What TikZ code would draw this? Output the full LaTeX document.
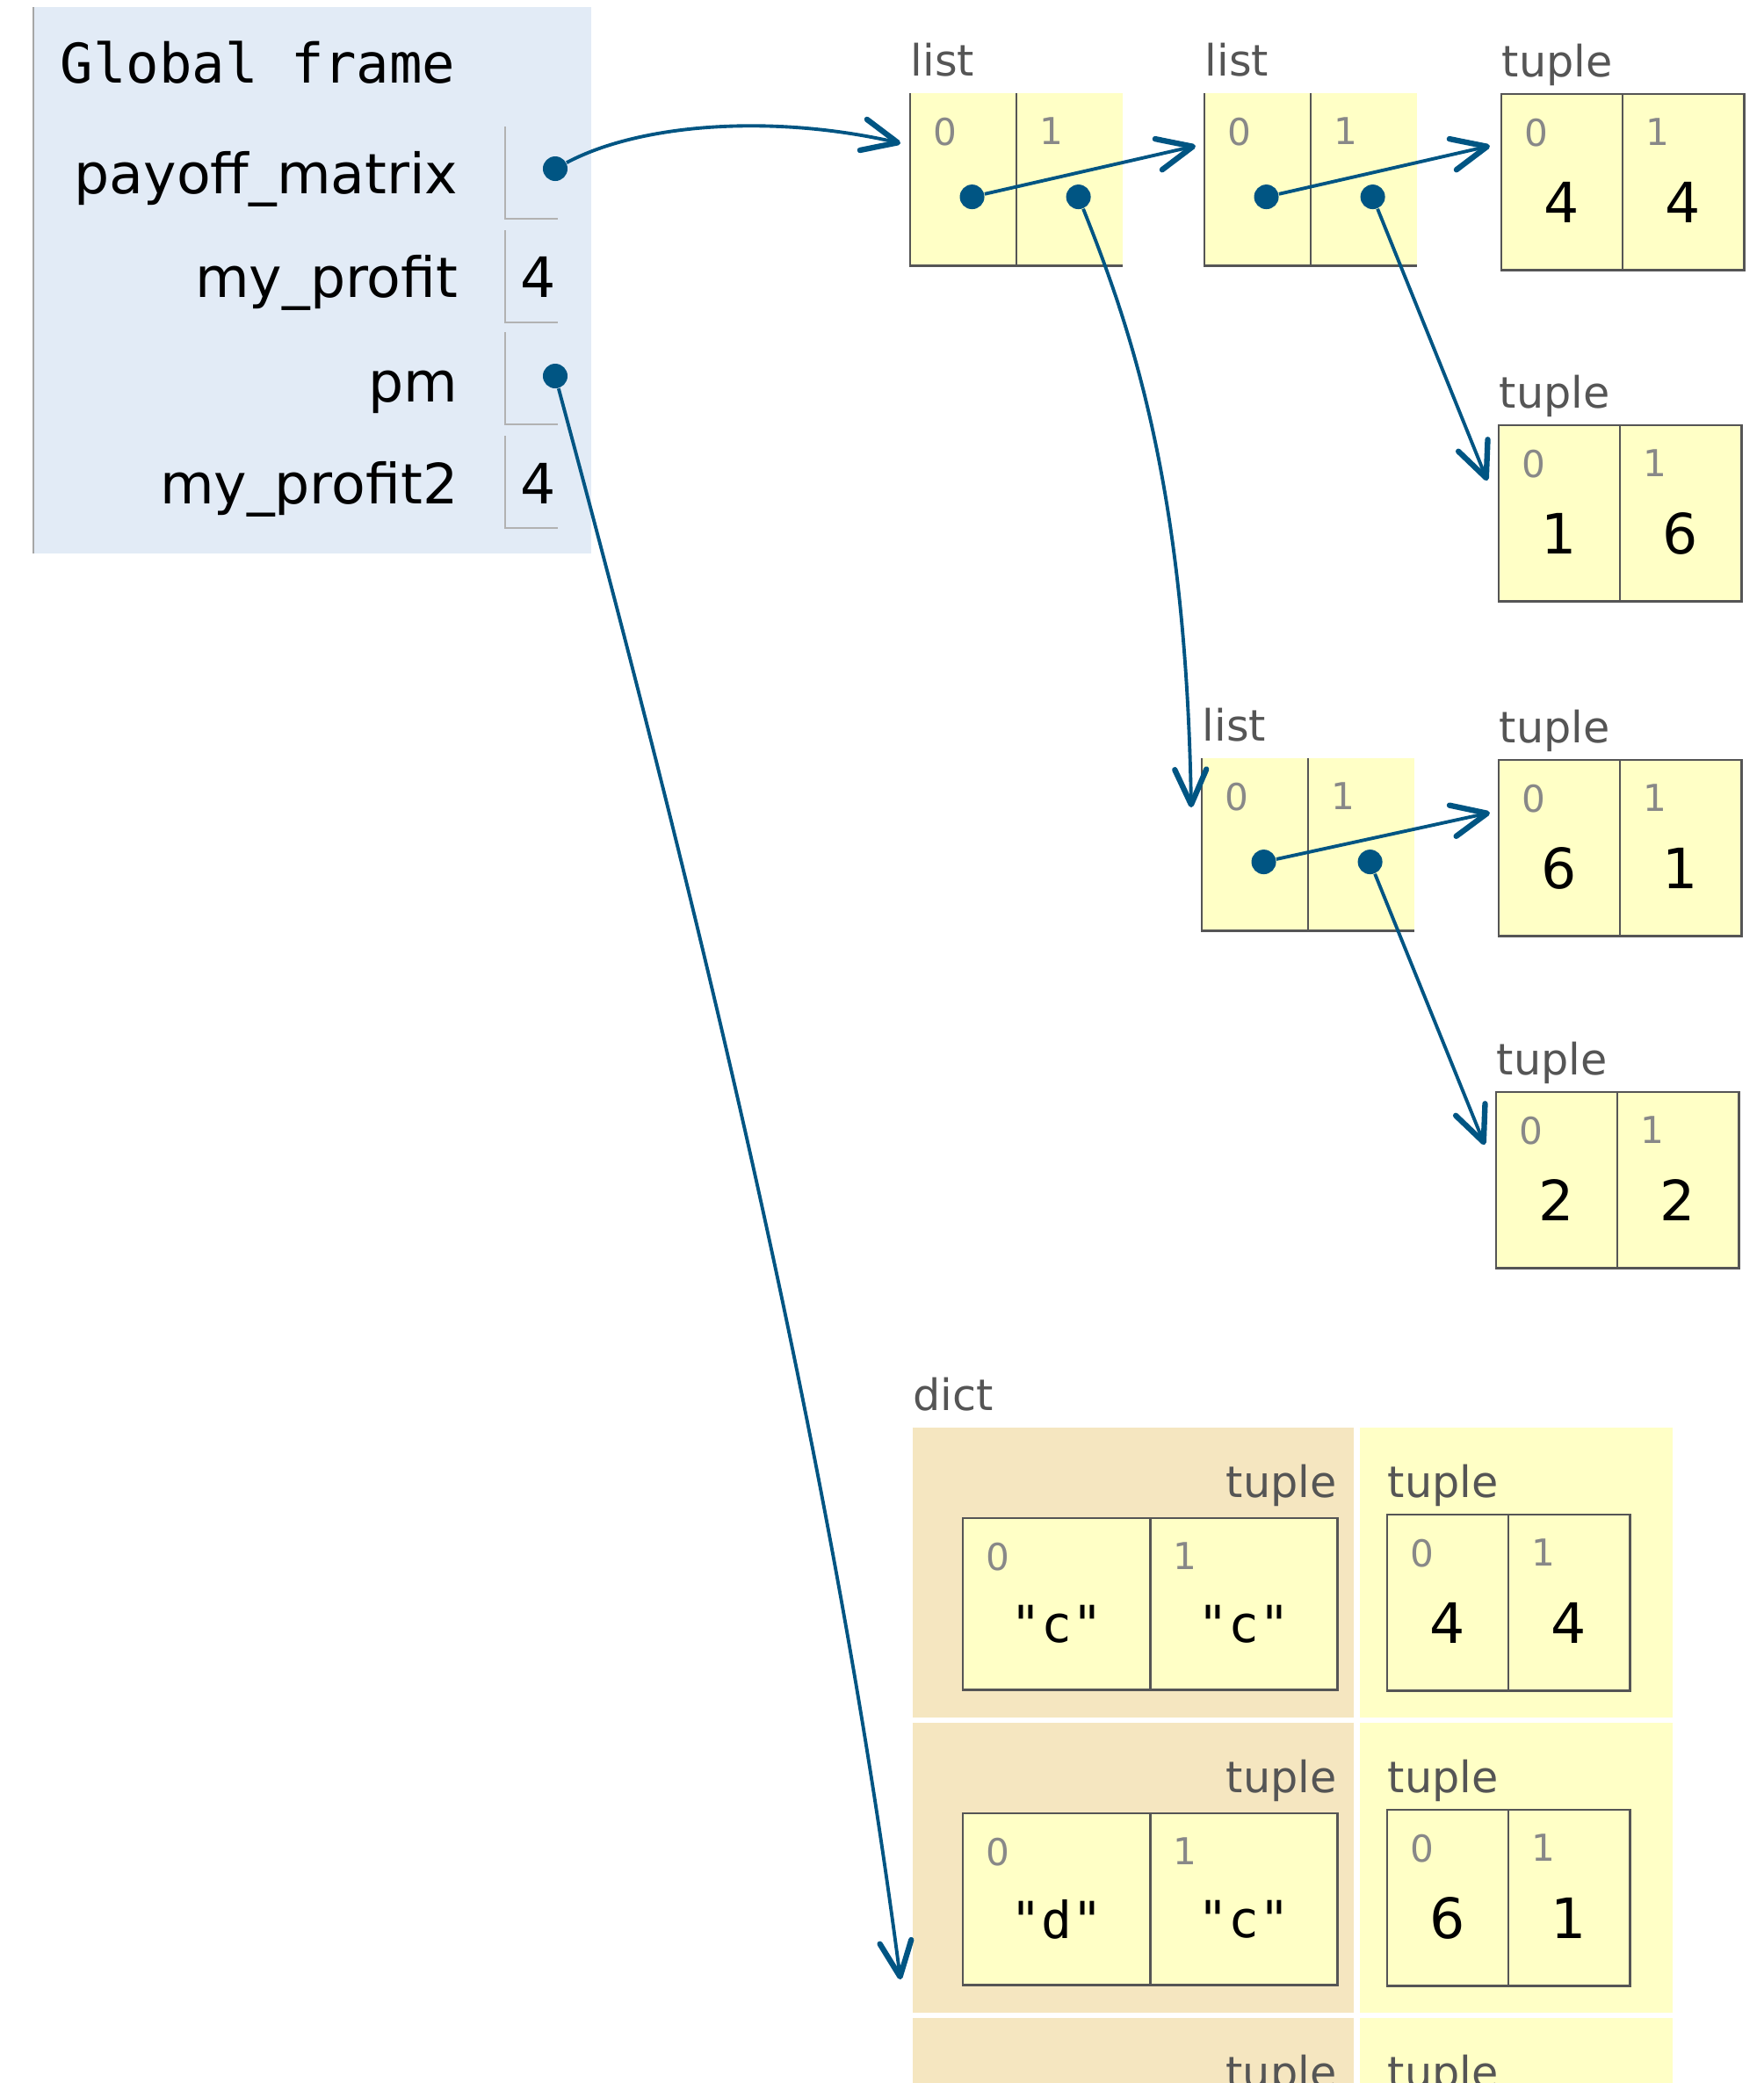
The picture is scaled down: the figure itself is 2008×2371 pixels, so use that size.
\documentclass[tikz,border=0pt]{standalone}
\usepackage{fontspec}
\setmainfont{DejaVu Sans}
\newfontfamily\codefont[Ligatures=TeXOff]{DejaVu Sans Mono}
\usetikzlibrary{positioning,arrows.meta}
\definecolor{framebg}{HTML}{E2EBF6}
\definecolor{celly}{HTML}{FFFFC6}
\definecolor{keybg}{HTML}{F5E6C0}
\definecolor{ptrblue}{HTML}{005583}
\definecolor{boxgray}{HTML}{555555}
\definecolor{lblgray}{HTML}{555555}
\definecolor{idxgray}{HTML}{888888}

\begin{document}
\begin{tikzpicture}[x=0.01cm, y=-0.01cm,
    listcell/.style={rectangle, fill=celly, inner sep=0, outer sep=0,
        minimum width=1.21cm, minimum height=1.96cm},
    tupcell/.style={rectangle, fill=celly, draw=boxgray, line width=0.8pt,
        inner sep=0, outer sep=0, minimum width=1.38cm, minimum height=2.0cm},
    keycell/.style={tupcell, minimum width=2.13cm, minimum height=1.95cm},
    keyrow/.style={fill=keybg, inner sep=0, outer sep=0,
        minimum width=5.02cm, minimum height=3.30cm, anchor=north west},
    valrow/.style={fill=celly, inner sep=0, outer sep=0,
        minimum width=3.56cm, minimum height=3.30cm, anchor=north west},
    varcell/.style={inner sep=0, outer sep=0, minimum width=0.6cm,
        minimum height=1.05cm, anchor=north west},
    boxline/.style={draw=boxgray, line width=0.8pt},
    cellline/.style={draw=black!30, line width=0.7pt},
    typelbl/.style={font=\fontsize{14}{16}\selectfont, text=lblgray,
        inner sep=0, anchor=base west, yshift=0.2cm},
    keylbl/.style={font=\fontsize{14}{16}\selectfont, text=lblgray,
        inner sep=0, anchor=base east, yshift=0.24cm},
    idx/.style={font=\fontsize{12}{14}\selectfont, text=idxgray,
        inner sep=0, anchor=north west, xshift=0.26cm, yshift=-0.27cm},
    val/.style={font=\fontsize{18}{20}\selectfont, inner sep=0, yshift=-0.23cm},
    strval/.style={font=\codefont\fontsize{16.5}{18}\selectfont, inner sep=0,
        yshift=-0.23cm},
    varname/.style={font=\fontsize{18}{20}\selectfont, inner sep=0,
        anchor=mid east},
    dot/.style={circle, fill=ptrblue, inner sep=0, minimum size=0.28cm},
    ptr/.style={ptrblue, line width=1.1pt,
        -{Straight Barb[length=0.4cm, width=0.36cm, line width=1.8pt, round]}}]

  \useasboundingbox (0,0) rectangle (2008,2371);
  \clip (0,0) rectangle (2008,2371);

  % ---- global frame ----
  \node[fill=framebg, inner sep=0, outer sep=0, minimum width=6.35cm,
        minimum height=6.22cm, anchor=north west] (gframe) at (38,8) {};
  \draw[black!35, line width=0.8pt] (gframe.north west) -- (gframe.south west);
  \node[font=\codefont\fontsize{17.7}{20}\selectfont, inner sep=0,
        anchor=west] (gtitle) at (68,71) {Global frame};

  \node[varname] (npay) at (522,211) {payoff\_matrix};
  \node[varname] (nprof) at (522,329) {my\_profit};
  \node[varname] (npm) at (522,448) {pm};
  \node[varname] (nprof2) at (522,564) {my\_profit2};

  \node[varcell] (cpay) at (575,144) {};
  \node[varcell] (cprof) at (575,262) {};
  \node[varcell] (cpm) at (575,378) {};
  \node[varcell] (cprof2) at (575,496) {};
  \draw[cellline] (cpay.north west) -- (cpay.south west) -- (cpay.south east);
  \draw[cellline] (cprof.north west) -- (cprof.south west) -- (cprof.south east);
  \draw[cellline] (cpm.north west) -- (cpm.south west) -- (cpm.south east);
  \draw[cellline] (cprof2.north west) -- (cprof2.south west) -- (cprof2.south east);

  \node[font=\fontsize{18}{20}\selectfont, inner sep=0, anchor=mid west]
      (vprof) at (592,329) {4};
  \node[font=\fontsize{18}{20}\selectfont, inner sep=0, anchor=mid west]
      (vprof2) at (592,564) {4};
  \node[dot] (dpay) at (632,192) {};
  \node[dot] (dpm) at (632,428) {};

  % ---- outer list ----
  \node[listcell, anchor=north west] (l1a) at (1036,106) {};
  \node[listcell, right=0pt of l1a] (l1b) {};
  \draw[boxline] (l1a.north west) -- (l1a.south west) -- (l1b.south east);
  \draw[boxline] (l1a.north east) -- (l1a.south east);
  \node[typelbl] (l1lbl) at (l1a.north west) {list};
  \node[idx] (l1i0) at (l1a.north west) {0};
  \node[idx] (l1i1) at (l1b.north west) {1};
  \node[dot, xshift=0.1cm, yshift=-0.2cm] (l1d0) at (l1a) {};
  \node[dot, xshift=0.1cm, yshift=-0.2cm] (l1d1) at (l1b) {};

  % ---- first row list ----
  \node[listcell, anchor=north west] (l2a) at (1371,106) {};
  \node[listcell, right=0pt of l2a] (l2b) {};
  \draw[boxline] (l2a.north west) -- (l2a.south west) -- (l2b.south east);
  \draw[boxline] (l2a.north east) -- (l2a.south east);
  \node[typelbl] (l2lbl) at (l2a.north west) {list};
  \node[idx] (l2i0) at (l2a.north west) {0};
  \node[idx] (l2i1) at (l2b.north west) {1};
  \node[dot, xshift=0.1cm, yshift=-0.2cm] (l2d0) at (l2a) {};
  \node[dot, xshift=0.1cm, yshift=-0.2cm] (l2d1) at (l2b) {};

  % ---- second row list ----
  \node[listcell, anchor=north west] (l3a) at (1368,863) {};
  \node[listcell, right=0pt of l3a] (l3b) {};
  \draw[boxline] (l3a.north west) -- (l3a.south west) -- (l3b.south east);
  \draw[boxline] (l3a.north east) -- (l3a.south east);
  \node[typelbl] (l3lbl) at (l3a.north west) {list};
  \node[idx] (l3i0) at (l3a.north west) {0};
  \node[idx] (l3i1) at (l3b.north west) {1};
  \node[dot, xshift=0.1cm, yshift=-0.2cm] (l3d0) at (l3a) {};
  \node[dot, xshift=0.1cm, yshift=-0.2cm] (l3d1) at (l3b) {};

  % ---- payoff tuples ----
  \node[tupcell, anchor=north west] (ta0) at (1709,107) {};
  \node[tupcell, right=0pt of ta0] (ta1) {};
  \node[typelbl] (talbl) at (ta0.north west) {tuple};
  \node[idx] (tai0) at (ta0.north west) {0};
  \node[idx] (tai1) at (ta1.north west) {1};
  \node[val] (tav0) at (ta0) {4};
  \node[val] (tav1) at (ta1) {4};

  \node[tupcell, anchor=north west] (tb0) at (1706,484) {};
  \node[tupcell, right=0pt of tb0] (tb1) {};
  \node[typelbl] (tblbl) at (tb0.north west) {tuple};
  \node[idx] (tbi0) at (tb0.north west) {0};
  \node[idx] (tbi1) at (tb1.north west) {1};
  \node[val] (tbv0) at (tb0) {1};
  \node[val] (tbv1) at (tb1) {6};

  \node[tupcell, anchor=north west] (tc0) at (1706,865) {};
  \node[tupcell, right=0pt of tc0] (tc1) {};
  \node[typelbl] (tclbl) at (tc0.north west) {tuple};
  \node[idx] (tci0) at (tc0.north west) {0};
  \node[idx] (tci1) at (tc1.north west) {1};
  \node[val] (tcv0) at (tc0) {6};
  \node[val] (tcv1) at (tc1) {1};

  \node[tupcell, anchor=north west] (td0) at (1703,1243) {};
  \node[tupcell, right=0pt of td0] (td1) {};
  \node[typelbl] (tdlbl) at (td0.north west) {tuple};
  \node[idx] (tdi0) at (td0.north west) {0};
  \node[idx] (tdi1) at (td1.north west) {1};
  \node[val] (tdv0) at (td0) {2};
  \node[val] (tdv1) at (td1) {2};

  % ---- the dict ----
  \node[keyrow] (k1) at (1039,1625) {};
  \node[valrow] (v1) at (1548,1625) {};
  \node[keyrow] (k2) at (1039,1961) {};
  \node[valrow] (v2) at (1548,1961) {};
  \node[keyrow] (k3) at (1039,2297) {};
  \node[valrow] (v3) at (1548,2297) {};
  \node[typelbl] (dictlbl) at (k1.north west) {dict};

  \node[keycell, anchor=north west] (k1t0) at (1096,1728) {};
  \node[keycell, right=0pt of k1t0] (k1t1) {};
  \node[keylbl] (k1lbl) at (k1t1.north east) {tuple};
  \node[idx] (k1i0) at (k1t0.north west) {0};
  \node[idx] (k1i1) at (k1t1.north west) {1};
  \node[strval] (k1v0) at (k1t0) {"c"};
  \node[strval] (k1v1) at (k1t1) {"c"};

  \node[tupcell, anchor=north west] (v1t0) at (1579,1724) {};
  \node[tupcell, right=0pt of v1t0] (v1t1) {};
  \node[typelbl] (v1lbl) at (v1t0.north west) {tuple};
  \node[idx] (v1i0) at (v1t0.north west) {0};
  \node[idx] (v1i1) at (v1t1.north west) {1};
  \node[val] (v1v0) at (v1t0) {4};
  \node[val] (v1v1) at (v1t1) {4};

  \node[keycell, anchor=north west] (k2t0) at (1096,2064) {};
  \node[keycell, right=0pt of k2t0] (k2t1) {};
  \node[keylbl] (k2lbl) at (k2t1.north east) {tuple};
  \node[idx] (k2i0) at (k2t0.north west) {0};
  \node[idx] (k2i1) at (k2t1.north west) {1};
  \node[strval] (k2v0) at (k2t0) {"d"};
  \node[strval] (k2v1) at (k2t1) {"c"};

  \node[tupcell, anchor=north west] (v2t0) at (1579,2060) {};
  \node[tupcell, right=0pt of v2t0] (v2t1) {};
  \node[typelbl] (v2lbl) at (v2t0.north west) {tuple};
  \node[idx] (v2i0) at (v2t0.north west) {0};
  \node[idx] (v2i1) at (v2t1.north west) {1};
  \node[val] (v2v0) at (v2t0) {6};
  \node[val] (v2v1) at (v2t1) {1};

  \node[keylbl] (k3lbl) at (1522,2400) {tuple};
  \node[typelbl] (v3lbl) at (1579,2396) {tuple};

  % ---- pointers ----
  \draw[ptr] (dpay) .. controls (730,140) and (880,130)
      .. ([xshift=-0.11cm, yshift=0.41cm]l1a.west);
  \draw[ptr] (l1d0) -- ([xshift=-0.1cm, yshift=0.38cm]l2a.west);
  \draw[ptr] (l2d0) -- ([xshift=-0.13cm, yshift=0.41cm]ta0.west);
  \draw[ptr] (l2d1) -- ([xshift=-0.13cm, yshift=0.37cm]tb0.west);
  \draw[ptr] (l1d1) .. controls (1290,380) and (1350,560)
      .. ([xshift=-0.12cm, yshift=0.42cm]l3a.west);
  \draw[ptr] (l3d0) -- ([xshift=-0.1cm, yshift=0.4cm]tc0.west);
  \draw[ptr] (l3d1) -- ([xshift=-0.13cm, yshift=0.4cm]td0.west);
  \draw[ptr] (dpm) .. controls (794,1028) and (947,1653)
      .. ([xshift=-0.14cm, yshift=-1.27cm]k2.west);

\end{tikzpicture}
\end{document}
